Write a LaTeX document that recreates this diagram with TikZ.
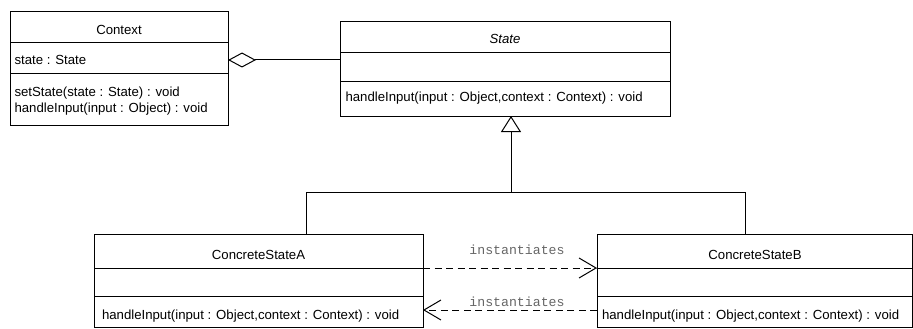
\documentclass[tikz,border=0pt]{standalone}
\usepackage{fontspec}
\setmainfont{Liberation Sans}
\newfontfamily\monofont{Liberation Mono}
\usetikzlibrary{arrows.meta}
\begin{document}
\begin{tikzpicture}[x=1pt,y=-1pt,line width=1pt,
  cls/.style={draw,rectangle,inner sep=0pt,outer sep=0pt,anchor=north west},
  txt/.style={inner sep=0pt,font=\fontsize{13.2}{15}\selectfont,anchor=base},
  mtxt/.style={txt,anchor=base west},
  lbl/.style={inner sep=0pt,font=\monofont\fontsize{13.2}{15}\selectfont,text=black!60,anchor=base},
  dep/.style={dash pattern=on 7pt off 4.5pt,-{Straight Barb[length=17pt,width=20pt,line width=1pt]}},
  aggr/.style={{Diamond[open,length=28pt,width=15pt,line width=1pt]}-},
  inh/.style={-{Triangle[open,length=16pt,width=20pt,line width=1pt]}}]
\useasboundingbox (0,0) rectangle (913,329);

% Context
\node[cls,minimum width=218pt,minimum height=113pt] (ctx) at (10,12) {};
\draw (10,43) -- (228,43);
\draw (10,74) -- (228,74);
\node[txt] (ctxT) at (119,35) {Context};
\node[mtxt] (ctxA) at (14,65) {state : State};
\node[mtxt] (ctxM1) at (14,96) {setState(state : State) : void};
\node[mtxt] (ctxM2) at (14,112) {handleInput(input : Object) : void};

% State
\node[cls,minimum width=330pt,minimum height=94pt] (st) at (340,22) {};
\draw (340,53) -- (670,53);
\draw (340,82) -- (670,82);
\node[txt] (stT) at (505,44) {\itshape State};
\node[mtxt] (stM) at (345,102) {handleInput(input : Object,context : Context) : void};

% ConcreteStateA
\node[cls,minimum width=329pt,minimum height=93pt] (ca) at (94,234) {};
\draw (94,268) -- (423,268);
\draw (94,296) -- (423,296);
\node[txt] (caT) at (258.5,259) {ConcreteStateA};
\node[mtxt] (caM) at (101.5,319) {handleInput(input : Object,context : Context) : void};

% ConcreteStateB
\node[cls,minimum width=315.3pt,minimum height=93pt] (cb) at (597,234) {};
\draw (597,268) -- (912.3,268);
\draw (597,296) -- (912.3,296);
\node[txt] (cbT) at (755,259) {ConcreteStateB};
\node[mtxt] (cbM) at (601.5,319) {handleInput(input : Object,context : Context) : void};

% aggregation
\coordinate (ctxAg) at (228,60);
\coordinate (stAg) at (340,60);
\draw[aggr] (ctxAg) -- (stAg);

% inheritance
\coordinate (stB) at (511,116);
\coordinate (jn) at (511,192);
\coordinate (caTop) at (306,234);
\coordinate (cbTop) at (745,234);
\draw (caTop) |- (jn);
\draw (cbTop) |- (jn);
\draw[inh] (jn) -- (stB);

% dependencies
\coordinate (caR1) at (423,268);
\coordinate (cbL1) at (597,268);
\coordinate (cbL2) at (597,310);
\coordinate (caR2) at (423,310);
\draw[dep] (caR1) -- (cbL1);
\draw[dep] (cbL2) -- (caR2);
\node[lbl] (l1) at (517,254) {instantiates};
\node[lbl] (l2) at (517,306.5) {instantiates};
\end{tikzpicture}
\end{document}
